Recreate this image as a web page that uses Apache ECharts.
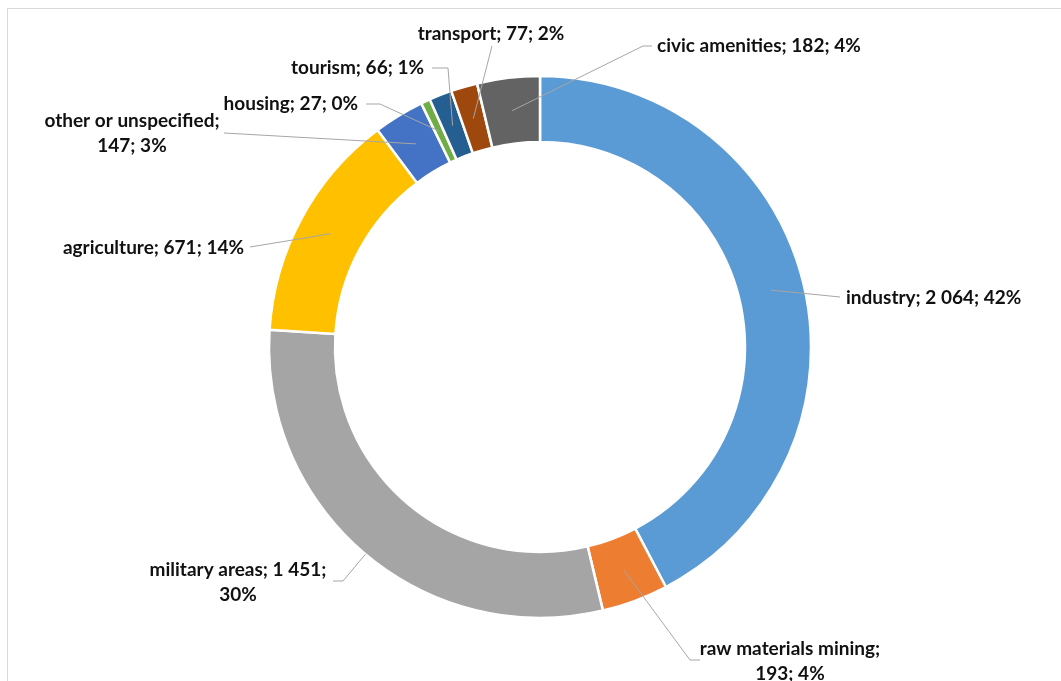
<!DOCTYPE html>
<html><head><meta charset="utf-8">
<script src="https://cdn.jsdelivr.net/npm/echarts@6/dist/echarts.min.js"></script>
<style>
html,body{margin:0;padding:0;background:#fff;overflow:hidden;}
#frame{position:absolute;left:7px;top:8px;width:1100px;height:700px;border-left:1px solid #d9d9d9;border-top:1px solid #d9d9d9;}
#chart{position:absolute;left:0;top:0;width:1061px;height:681px;}
</style></head><body><div id="frame"></div><div id="chart"></div>
<script>
// ---- data ----
const categories = ['industry','raw materials mining','military areas','agriculture','other or unspecified','housing','tourism','transport','civic amenities'];
const values = [2064, 193, 1451, 671, 147, 27, 66, 77, 182];
const percentLabels = ['42%','4%','30%','14%','3%','0%','1%','2%','4%'];
const colors = ['#5B9BD5','#ED7D31','#A5A5A5','#FFC000','#4472C4','#70AD47','#255E91','#9E480E','#636363'];

// ---- layout (label placement, pixels) ----
const CX = 540, CY = 347, R_OUT = 271, R_IN = 205, R_ANCHOR = 238;
const labelPos = [
  {x:846, y:298, align:'left',   brk:0, k:R_ANCHOR, line:[[840,297]]},
  {x:790, y:661, align:'center', brk:1, k:R_ANCHOR, line:[[690,660],[700,660]]},
  {x:238, y:582, align:'center', brk:2, k:R_OUT,    line:[[343,581],[333,581]]},
  {x:244, y:248, align:'right',  brk:0, k:R_ANCHOR, line:[[250,247]]},
  {x:132, y:133, align:'center', brk:1, k:R_ANCHOR, line:[[224,133]]},
  {x:358, y:104, align:'right',  brk:0, k:R_ANCHOR, line:[[380,104],[366,104]]},
  {x:424, y:68,  align:'right',  brk:0, k:R_ANCHOR, line:[[448,68],[432,68]]},
  {x:491, y:34,  align:'center', brk:0, k:R_ANCHOR, line:[[492,46]]},
  {x:657, y:46,  align:'left',   brk:0, k:R_ANCHOR, line:[[643,46],[652,46]]}
];

function fmt(v){ return String(v).replace(/\B(?=(\d{3})+(?!\d))/g, ' '); }
function labelText(i){
  const parts = [categories[i] + ';', fmt(values[i]) + ';', percentLabels[i]];
  const b = labelPos[i].brk;
  if (b === 1) return parts[0] + '\n' + parts[1] + ' ' + parts[2];
  if (b === 2) return parts[0] + ' ' + parts[1] + '\n' + parts[2];
  return parts.join(' ');
}

const pieData = categories.map(function(c,i){ return {name:c, value:values[i], itemStyle:{color:colors[i]}}; });

const chart = echarts.init(document.getElementById('chart'), null, {renderer:'canvas'});
chart.setOption({
  animation:false,
  backgroundColor:'transparent',
  series:[{
    type:'pie',
    z:2,
    center:[CX, CY],
    radius:[R_IN, R_OUT],
    startAngle:90,
    clockwise:true,
    silent:true,
    itemStyle:{borderColor:'#fff', borderWidth:2.5},
    label:{show:false},
    labelLine:{show:false},
    data: pieData
  },{
    type:'pie',
    z:5,
    center:[CX, CY],
    radius:[R_IN, R_OUT],
    startAngle:90,
    clockwise:true,
    avoidLabelOverlap:false,
    silent:true,
    itemStyle:{color:'rgba(0,0,0,0)', borderWidth:0},
    label:{
      show:true,
      position:'outside',
      formatter:function(p){ return labelText(p.dataIndex); },
      fontFamily:'Lato',
      fontWeight:'bold',
      fontSize:19,
      lineHeight:25,
      color:'#111'
    },
    labelLine:{show:true, length:10, length2:10, lineStyle:{color:'#a6a6a6', width:1}},
    labelLayout:function(params){
      const i = params.dataIndex;
      const L = labelPos[i];
      const p0 = params.labelLinePoints && params.labelLinePoints[0];
      let anchor = p0;
      if (p0) {
        const f = L.k / R_OUT;
        anchor = [CX + (p0[0]-CX)*f, CY + (p0[1]-CY)*f];
      }
      const pts = anchor ? [anchor].concat(L.line) : undefined;
      return {x:L.x, y:L.y, align:L.align, verticalAlign:'middle', labelLinePoints:pts};
    },
    data: pieData.map(function(d){ return {name:d.name, value:d.value}; })
  }]
});
</script>
</body></html>
